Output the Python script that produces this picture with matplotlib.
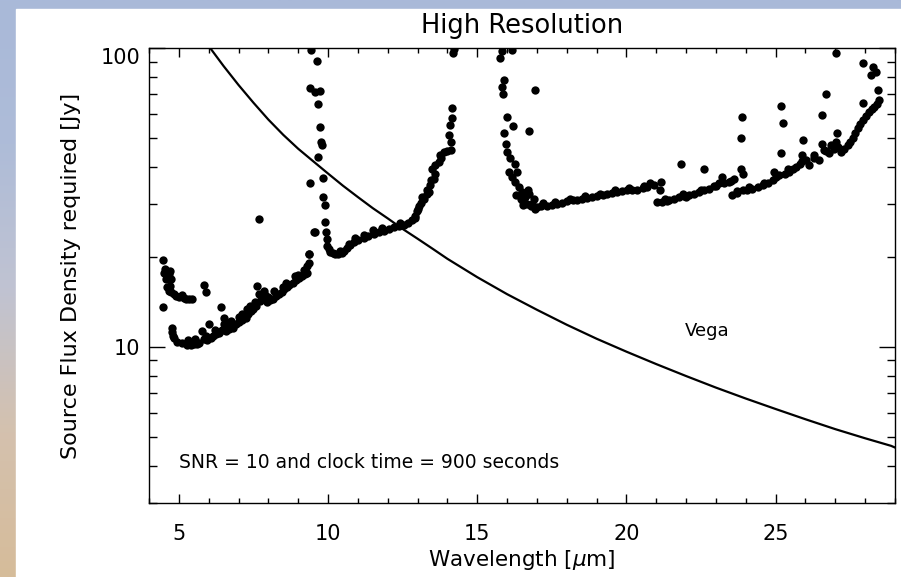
import matplotlib
matplotlib.use("Agg")
import matplotlib.pyplot as plt
from matplotlib.colors import LinearSegmentedColormap
from matplotlib.patches import Rectangle
from matplotlib.ticker import FixedLocator, NullFormatter
import numpy as np

# Vega model spectrum (Jy)
vega_wave = [6.05, 6.5, 7.0, 7.5, 8.0, 8.5, 9.0, 9.5, 10.0, 10.5, 11.0, 11.5,
             12.0, 12.5, 13.0, 13.5, 14.0, 15.0, 16.0, 17.0, 18.0, 19.0,
             20.0, 21.0, 22.0, 23.0, 24.0, 25.0, 26.0, 27.0, 28.0, 28.87, 29.0]
vega_flux = [100, 87.0, 75.2, 65.6, 57.6, 51.2, 46.0, 41.8, 38.0, 34.6, 31.7,
             29.1, 26.9, 24.8, 23.0, 21.3, 19.7, 17.1, 15.0, 13.3, 11.85,
             10.64, 9.63, 8.75, 7.98, 7.30, 6.71, 6.19, 5.72, 5.30, 4.94,
             4.66, 4.6]

# required source flux, 5-10 um
band1_wave = [4.48, 4.50, 4.52, 4.67, 4.56, 4.62, 4.73, 4.61, 4.70, 4.66, 4.84,
              4.92, 5.01, 5.17, 5.25, 5.34, 5.45, 5.85, 5.92,
              4.47, 4.78, 4.76, 4.80, 4.84, 4.95, 5.12, 5.29, 5.40, 5.51, 5.60,
              5.68, 5.79, 5.85, 5.95, 6.01, 6.07, 6.15, 6.24, 6.33, 6.41, 6.52,
              6.57, 6.45, 6.60, 6.68, 6.80, 6.90, 7.00, 7.02, 7.12, 7.24, 7.33,
              7.40, 7.41, 7.50, 7.58, 7.63, 7.69, 7.86, 7.80, 7.72, 7.97, 8.00,
              8.05, 8.14, 8.25, 8.36, 8.45, 8.50, 8.53, 8.62, 8.70, 8.81, 8.92,
              9.00, 9.03, 9.14, 9.22, 9.31, 9.35, 9.37, 9.54, 7.67,
              5.30, 5.55, 5.90, 6.20, 6.50, 6.75, 7.10, 7.30, 7.55, 7.90, 8.20,
              8.60, 8.90, 9.20, 4.58, 4.70, 4.75, 5.10]
band1_flux = [19.5, 17.7, 18.2, 17.5, 16.9, 17.2, 16.9, 15.8, 16.0, 15.4, 15.0,
              14.8, 14.7, 14.6, 14.5, 14.4, 14.4, 16.1, 15.2,
              13.6, 11.6, 11.2, 10.9, 10.7, 10.4, 10.3, 10.1, 10.15, 10.2, 10.25,
              10.3, 11.3, 10.6, 10.5, 11.9, 10.7, 10.9, 11.0, 11.1, 13.6, 12.5,
              11.3, 11.4, 12.0, 11.5, 11.6, 11.9, 12.6, 12.1, 12.3, 12.5, 12.9,
              13.7, 13.2, 13.4, 13.7, 16.0, 15.0, 15.4, 14.5, 14.2, 14.1, 14.7,
              14.3, 14.5, 14.8, 15.0, 15.3, 15.9, 15.6, 15.8, 16.1, 16.4, 16.7,
              17.4, 17.0, 17.3, 17.5, 17.7, 19.1, 20.5, 24.2, 26.8,
              10.5, 10.6, 10.9, 11.4, 11.9, 12.2, 12.9, 13.4, 14.1, 14.9, 15.4,
              16.4, 17.3, 18.1, 18.0, 17.9, 15.3, 14.9]

# 10-14 um
band2_wave = [9.43, 9.63, 9.40, 9.57, 9.74, 9.65, 9.74, 9.76, 9.80, 9.68, 9.83,
              9.38, 9.83, 9.91, 9.57, 9.91, 9.94, 9.96, 9.98, 10.02, 10.07,
              10.15, 10.24, 10.35, 10.47, 10.55, 10.63, 10.75, 10.86, 10.90,
              11.00, 11.19, 11.35, 11.50, 11.53, 11.70, 11.86, 12.03, 12.20,
              12.37, 12.53, 12.68, 12.82, 12.93, 12.98, 13.04, 13.12, 13.21,
              13.32, 13.43, 13.54, 13.49, 13.60, 13.71, 13.80, 13.88, 13.99,
              14.04, 14.10, 14.16, 14.19, 14.13, 14.21, 9.35, 9.29,
              13.00, 13.15, 13.30, 13.45, 13.60, 13.75, 13.40, 12.90, 10.40,
              10.70, 11.20, 11.80, 12.40, 14.15, 14.12]
band2_flux = [98.5, 90.4, 73.6, 71.3, 71.8, 64.7, 54.5, 48.5, 47.2, 43.2, 36.7,
              35.4, 31.7, 29.9, 24.3, 26.1, 24.2, 23.0, 21.8, 21.2, 20.8,
              20.6, 20.5, 20.5, 20.6, 21.0, 21.4, 21.9, 22.4, 23.2,
              22.7, 23.1, 23.5, 24.6, 23.9, 24.2, 24.5, 24.8, 25.1,
              25.3, 25.6, 26.0, 26.5, 27.4, 28.4, 29.7, 30.3, 31.3,
              32.5, 34.7, 36.5, 39.5, 38.0, 41.5, 43.0, 44.8, 45.1,
              51.3, 55.4, 63.1, 96.0, 45.5, 99.0, 20.5, 18.7,
              28.9, 31.8, 33.5, 36.2, 40.5, 43.8, 33.0, 26.9, 21.0,
              22.0, 23.6, 24.9, 25.9, 58.5, 48.5]

# 16-21 um
band3_wave = [15.84, 16.17, 15.76, 15.91, 15.84, 15.87, 16.95, 16.00, 16.19,
              15.89, 16.74, 15.95, 16.00, 16.11, 16.28, 16.06, 16.34, 16.17,
              16.25, 16.40, 16.51, 16.45, 16.73, 16.67, 16.60, 16.90, 16.85,
              17.01, 17.15, 17.35, 17.50, 17.68, 17.85, 18.02, 18.20, 18.35,
              18.50, 18.69, 18.85, 19.02, 19.20, 19.36, 19.50, 19.69, 19.85,
              20.03, 20.20, 20.37, 20.55, 20.70, 20.92, 21.15, 21.13,
              17.20, 17.60, 18.10, 18.60, 19.10, 19.60, 20.10, 20.60, 20.80,
              16.30, 16.50, 16.80, 16.95, 16.55, 16.70]
band3_flux = [97.7, 98.5, 92.7, 78.2, 74.2, 70.4, 72.3, 58.7, 54.8,
              52.1, 52.6, 47.8, 44.9, 42.7, 41.0, 38.5, 38.5, 37.0,
              35.5, 34.2, 33.0, 31.3, 32.5, 30.1, 31.8, 31.3, 30.0,
              29.3, 29.5, 29.7, 29.9, 30.1, 30.4, 30.7, 30.9, 31.1,
              31.3, 31.5, 31.7, 31.9, 32.2, 32.5, 32.7, 33.0, 33.2,
              33.4, 33.5, 33.6, 34.0, 34.3, 34.7, 35.6, 33.6,
              30.3, 30.6, 31.2, 31.9, 32.5, 33.4, 33.9, 34.6, 35.3,
              32.2, 31.0, 29.6, 29.0, 29.8, 33.6]

# 21-24 um
band4_wave = [21.04, 21.20, 21.37, 21.43, 21.60, 21.76, 21.93, 22.10, 22.27,
              22.43, 22.60, 22.77, 22.93, 23.10, 23.27, 23.44, 23.61, 23.87,
              23.83, 23.83, 23.89, 21.82, 22.60, 23.19,
              21.30, 21.90, 22.50, 23.00, 23.50, 22.00]
band4_flux = [30.5, 30.6, 30.7, 30.9, 31.3, 31.7, 31.9, 32.1, 32.5,
              33.0, 33.4, 33.8, 34.5, 35.2, 35.4, 35.6, 36.5, 58.7,
              50.0, 39.5, 38.0, 41.0, 39.5, 37.0,
              31.3, 32.4, 33.6, 34.5, 35.9, 31.7]

# 24-28.5 um
band5_wave = [23.55, 23.72, 23.89, 24.05, 24.22, 24.40, 24.56, 24.73, 24.90,
              25.12, 24.95, 25.17, 25.17, 25.23, 25.30, 25.45, 25.57, 25.68,
              25.80, 25.90, 25.92, 26.01, 26.13, 26.29, 26.46, 26.57, 26.68,
              26.57, 26.63, 26.80, 26.85, 26.96, 27.02, 27.04, 27.02,
              27.19, 27.30, 27.41, 27.50, 27.58, 27.66, 27.75, 27.83, 27.92,
              27.92, 28.03, 28.14, 28.22, 28.31, 28.39, 28.47, 28.42, 27.92,
              28.25, 28.19, 28.36,
              24.10, 24.60, 25.00, 25.40, 25.90, 26.30, 26.70, 27.10, 23.70]
band5_flux = [32.1, 32.8, 33.4, 33.6, 33.8, 34.2, 34.7, 35.4, 36.1,
              37.5, 38.5, 44.4, 63.9, 55.9, 38.0, 38.5, 39.3, 40.0,
              41.0, 43.7, 49.4, 42.1, 40.5, 43.7, 42.1, 59.6, 70.0,
              47.8, 45.5, 44.4, 47.2, 46.0, 96.0, 52.1, 48.5,
              44.9, 46.0, 47.2, 48.5, 49.8, 51.8, 53.8, 55.5, 57.3,
              65.2, 59.0, 61.1, 62.3, 63.5, 65.0, 66.9, 72.6, 88.9,
              86.5, 81.1, 83.2,
              34.3, 35.2, 37.0, 39.3, 41.8, 42.8, 45.2, 46.7, 33.3]

plt.rcParams['font.family'] = ['DejaVu Sans']

fig = plt.figure(figsize=(9.01, 5.77), dpi=100)

# slide-like backdrop: gradient with a white panel on top
bg = fig.add_axes([0, 0, 1, 1], zorder=-2)
cmap = LinearSegmentedColormap.from_list(
    "bg", ["#D6BC9A", "#D4C1AE", "#C0C3D2", "#AEBCD8", "#A9B9D9"])
bg.imshow(np.linspace(0, 1, 256).reshape(-1, 1), cmap=cmap, aspect="auto",
          extent=[0, 1, 0, 1], origin="lower")
bg.add_patch(Rectangle((16 / 901, 0), 1, 1 - 9 / 577, color="white",
                       transform=bg.transAxes))
bg.set_xlim(0, 1)
bg.set_ylim(0, 1)
bg.axis("off")

ax = fig.add_axes([149 / 901, 1 - 503 / 577, 746 / 901, 455 / 577])
ax.set_facecolor("white")

ax.plot(vega_wave, vega_flux, color="black", lw=1.6)
for w, f in [(band1_wave, band1_flux), (band2_wave, band2_flux),
             (band3_wave, band3_flux), (band4_wave, band4_flux),
             (band5_wave, band5_flux)]:
    ax.plot(w, f, "o", color="black", ms=6, mew=0)

ax.set_yscale("log")
ax.set_xlim(4, 29)
ax.set_ylim(3, 100)

ax.xaxis.set_major_locator(FixedLocator([5, 10, 15, 20, 25]))
ax.xaxis.set_minor_locator(FixedLocator(range(4, 30)))
ax.yaxis.set_major_locator(FixedLocator([10, 100]))
ax.yaxis.set_minor_locator(FixedLocator([3, 4, 5, 6, 7, 8, 9, 20, 30, 40,
                                         50, 60, 70, 80, 90]))
ax.yaxis.set_minor_formatter(NullFormatter())
ax.set_yticklabels(["10", "100"])

ax.tick_params(which="both", direction="in", top=True, right=True,
               width=1.0, color="black", labelsize=15)
ax.tick_params(axis="x", which="major", length=6.5, pad=15)
ax.tick_params(axis="x", which="minor", length=3.6)
ax.tick_params(axis="y", which="major", length=11.5, pad=6)
ax.tick_params(axis="y", which="minor", length=5.8)
ax.yaxis.get_major_ticks()[1].label1.set_va("top")

for s in ax.spines.values():
    s.set_linewidth(1.0)

ax.set_title("High Resolution", fontsize=18.5, pad=11)
ax.set_xlabel(r"Wavelength [$\mu$m]", fontsize=15.5)
ax.set_ylabel("Source Flux Density required [Jy]", fontsize=16)
ax.xaxis.set_label_coords(0.5, -0.099)
ax.yaxis.set_label_coords(-0.091, 0.5)

ax.text(5.0, 4.1, "SNR = 10 and clock time = 900 seconds", fontsize=13.5,
        va="center", ha="left")
ax.text(22.7, 11.3, "Vega", fontsize=13, va="center", ha="center")

fig.savefig("out.png", dpi=100)
